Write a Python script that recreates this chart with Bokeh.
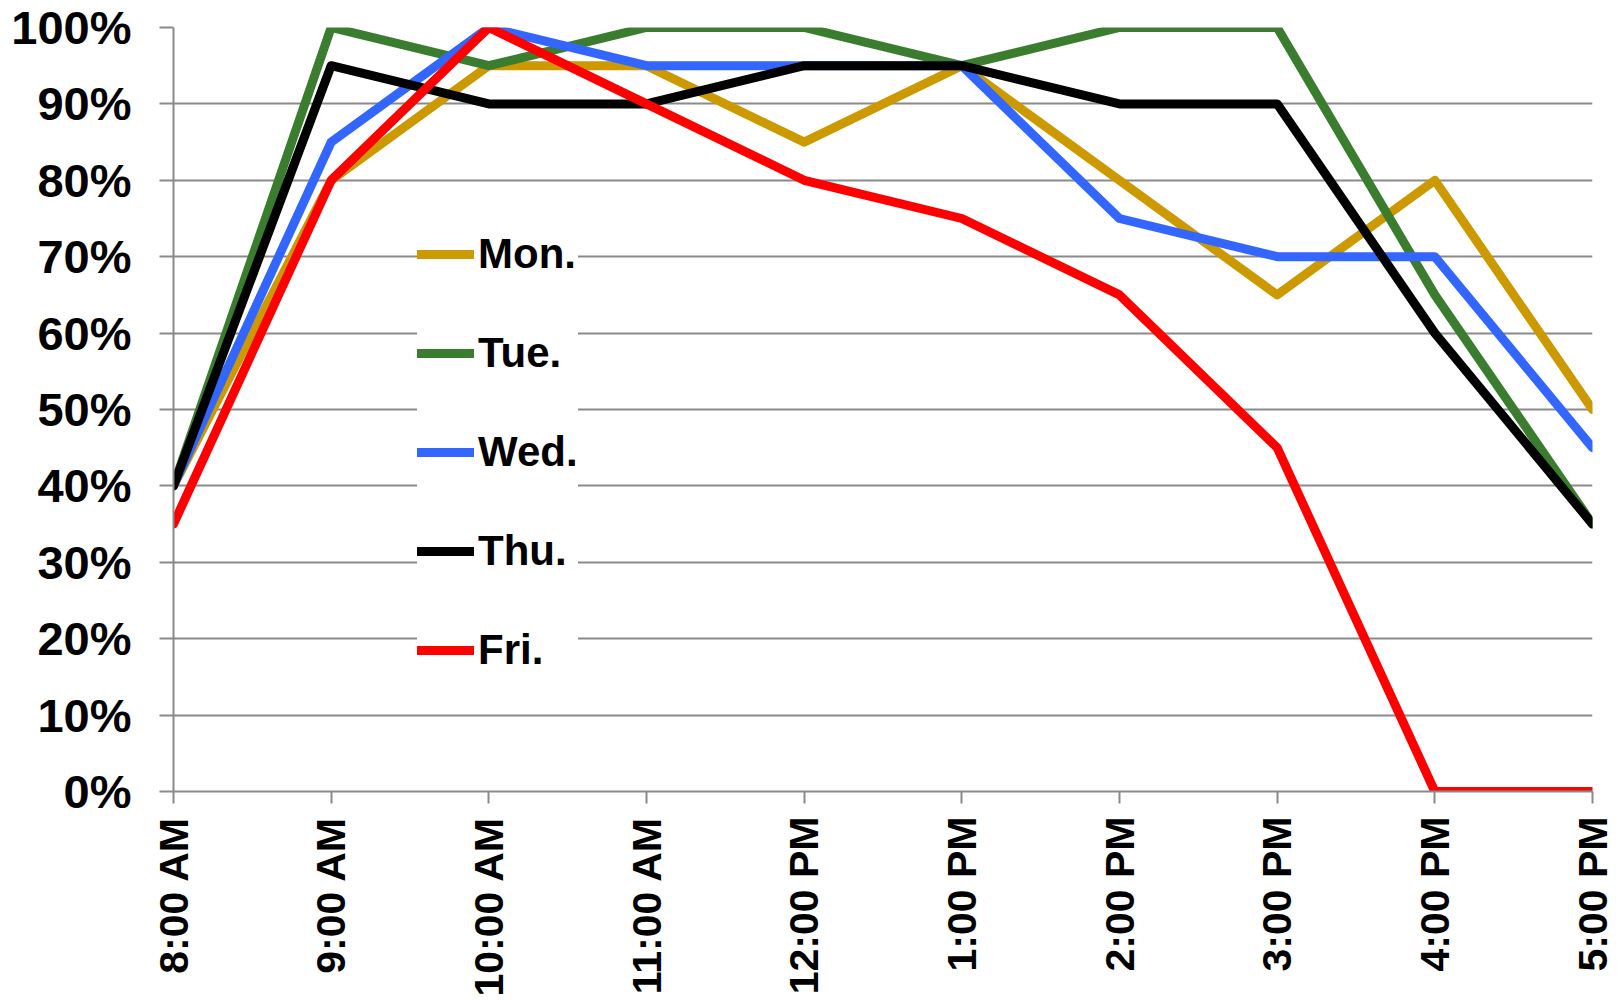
from bokeh.plotting import figure
from bokeh.models import Range1d, FixedTicker, PrintfTickFormatter, Legend, LegendItem
from bokeh.embed import file_html
from bokeh.resources import INLINE
import math

# ---- data ----
times = ["8:00 AM", "9:00 AM", "10:00 AM", "11:00 AM", "12:00 PM",
         "1:00 PM", "2:00 PM", "3:00 PM", "4:00 PM", "5:00 PM"]
mon = [40, 80, 95, 95, 85, 95, 80, 65, 80, 50]
tue = [40, 100, 95, 100, 100, 95, 100, 100, 65, 35]
wed = [40, 85, 100, 95, 95, 95, 75, 70, 70, 45]
thu = [40, 95, 90, 90, 95, 95, 90, 90, 60, 35]
fri = [35, 80, 100, 90, 80, 75, 65, 45, 0, 0]
y_ticks = [0, 10, 20, 30, 40, 50, 60, 70, 80, 90, 100]

series = [("Mon.", mon, "#CC9900"), ("Tue.", tue, "#3A7D2E"),
          ("Wed.", wed, "#3366FF"), ("Thu.", thu, "#000000"),
          ("Fri.", fri, "#FF0000")]

FONT = "Liberation Sans"
GRID = "#8a8a8a"

xs = list(range(len(times)))

p = figure(width=1620, height=1003, output_backend="svg", toolbar_location=None,
           x_range=Range1d(0, len(times) - 1), y_range=Range1d(0, 100),
           min_border_left=173, min_border_right=28, min_border_top=27,
           min_border_bottom=212)
p.outline_line_color = None
p.background_fill_color = "white"
p.border_fill_color = "white"

items = []
for name, vals, col in series:
    r = p.line(xs, vals, line_color=col, line_width=9,
               line_cap="round", line_join="round")
    items.append(LegendItem(label=name, renderers=[r]))

# axes
p.xaxis.ticker = FixedTicker(ticks=xs)
p.xaxis.major_label_overrides = {i: t for i, t in enumerate(times)}
p.xaxis.major_label_orientation = math.pi / 2
p.xaxis.major_label_text_font = FONT
p.xaxis.major_label_text_font_style = "bold"
p.xaxis.major_label_text_font_size = "41px"
p.xaxis.major_label_text_color = "black"
p.xaxis.major_label_standoff = 13
p.xaxis.major_tick_out = 12
p.xaxis.major_tick_in = 0
p.xaxis.minor_tick_line_color = None
p.xaxis.axis_line_color = GRID
p.xaxis.axis_line_width = 2
p.xaxis.major_tick_line_color = GRID
p.xaxis.major_tick_line_width = 2

p.yaxis.ticker = FixedTicker(ticks=y_ticks)
p.yaxis.formatter = PrintfTickFormatter(format="%d%%")
p.yaxis.major_label_text_font = FONT
p.yaxis.major_label_text_font_style = "bold"
p.yaxis.major_label_text_font_size = "47px"
p.yaxis.major_label_text_color = "black"
p.yaxis.major_label_standoff = 28
p.yaxis.major_tick_out = 14
p.yaxis.major_tick_in = 0
p.yaxis.minor_tick_line_color = None
p.yaxis.axis_line_color = GRID
p.yaxis.axis_line_width = 2
p.yaxis.major_tick_line_color = GRID
p.yaxis.major_tick_line_width = 2

p.xgrid.grid_line_color = None
p.ygrid.grid_line_color = GRID
p.ygrid.grid_line_width = 2

legend = Legend(items=items, location=(244, 111), margin=0, padding=11,
                spacing=39, glyph_width=57, glyph_height=60, label_height=60,
                label_standoff=4,
                label_text_font=FONT, label_text_font_style="bold",
                label_text_font_size="42px", label_text_color="black",
                border_line_color=None, background_fill_color="white",
                background_fill_alpha=1.0)
p.add_layout(legend, "center")

open("out.html", "w").write(file_html(p, INLINE))
